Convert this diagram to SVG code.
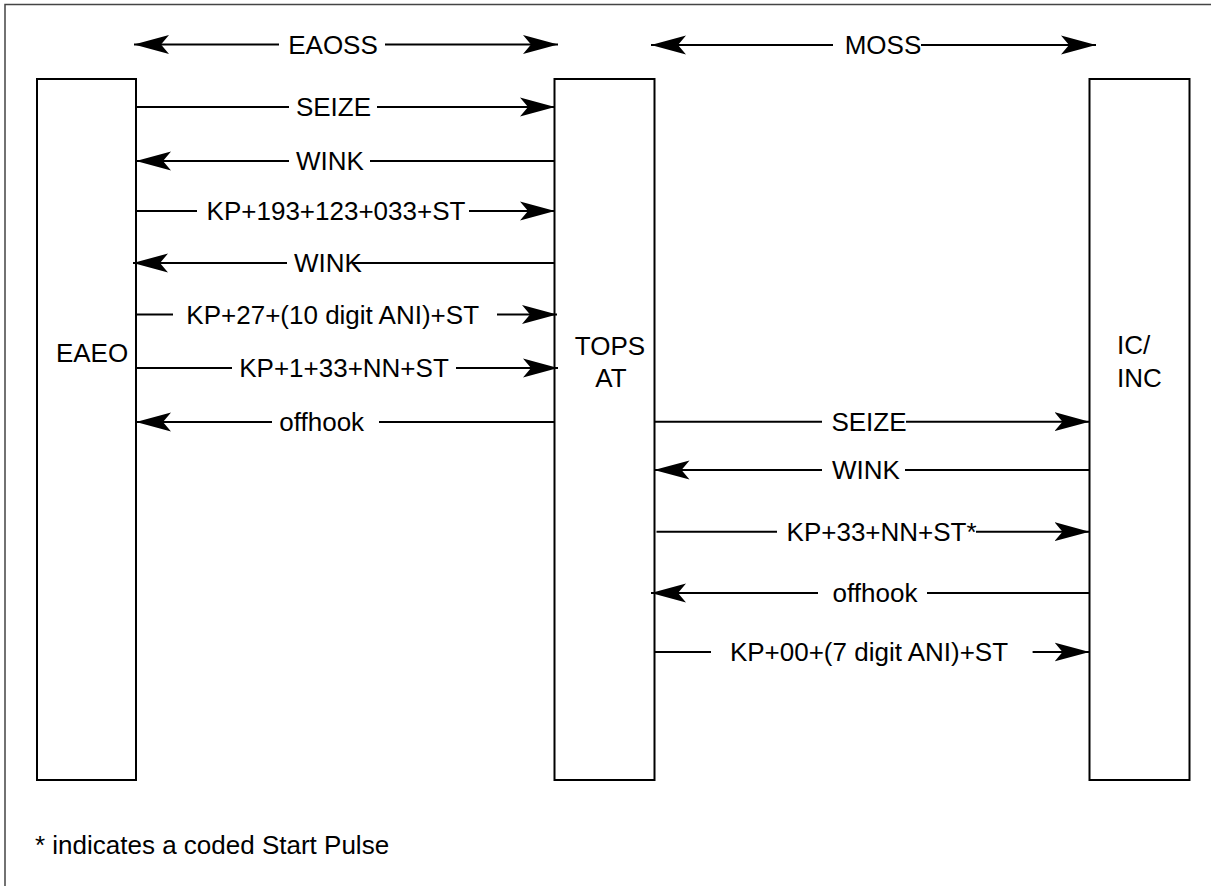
<svg xmlns="http://www.w3.org/2000/svg" width="1211" height="886" viewBox="0 0 1211 886">
<style>
text{font-family:"Liberation Sans",Arial,Helvetica,sans-serif;font-size:26px;fill:#000}
.m{text-anchor:middle}
.box{fill:#fff;stroke:#000;stroke-width:2}
.ln{stroke:#000;stroke-width:2;fill:none}
.a{marker-end:url(#ah)}
.b{marker-start:url(#ah)}
.frame{stroke:#444;stroke-width:1.5;fill:none}
</style>
<defs>
<marker id="ah" markerUnits="userSpaceOnUse" markerWidth="35" markerHeight="20" viewBox="0 0 35 20" refX="35" refY="10" orient="auto-start-reverse">
<path d="M0,0.5 L35,10 L0,19.5 L8,10 Z" fill="#000"/>
</marker>
</defs>
<rect width="1211" height="886" fill="#fff"/>
<path class="frame" d="M5,886 V4.5 H1211"/>

<g id="node-eaeo">
<rect class="box" x="37" y="79" width="99" height="701"/>
<text class="m" x="92" y="362">EAEO</text>
</g>
<g id="node-tops">
<rect class="box" x="554.5" y="79" width="100" height="701"/>
<text class="m" x="610" y="355">TOPS</text>
<text class="m" x="611" y="387">AT</text>
</g>
<g id="node-ic">
<rect class="box" x="1089.5" y="79" width="100" height="701"/>
<text x="1117" y="354">IC/</text>
<text x="1117" y="387">INC</text>
</g>

<g id="connectors">
<!-- EAOSS -->
<line class="ln b" x1="134" y1="44.5" x2="279" y2="44.5"/>
<line class="ln a" x1="385" y1="44.5" x2="558" y2="44.5"/>
<text class="m" x="333" y="53.5">EAOSS</text>
<!-- MOSS -->
<line class="ln b" x1="651" y1="45" x2="833" y2="45"/>
<line class="ln a" x1="921" y1="45" x2="1096" y2="45"/>
<text class="m" x="883" y="54">MOSS</text>

<!-- left column -->
<line class="ln" x1="136" y1="107" x2="289" y2="107"/>
<line class="ln a" x1="377" y1="107" x2="555" y2="107"/>
<text class="m" x="333.5" y="116">SEIZE</text>

<line class="ln a" x1="289" y1="161" x2="136" y2="161"/>
<line class="ln" x1="370" y1="161" x2="555" y2="161"/>
<text class="m" x="330" y="170">WINK</text>

<line class="ln" x1="136" y1="211" x2="197" y2="211"/>
<line class="ln a" x1="469" y1="211" x2="555" y2="211"/>
<text class="m" x="336" y="220">KP+193+123+033+ST</text>

<line class="ln a" x1="287" y1="263" x2="133" y2="263"/>
<line class="ln" x1="353" y1="263" x2="554" y2="263"/>
<text class="m" x="328" y="272">WINK</text>

<line class="ln" x1="136" y1="314.5" x2="173" y2="314.5"/>
<line class="ln a" x1="497" y1="314.5" x2="557" y2="314.5"/>
<text class="m" x="332.7" y="323.5">KP+27+(10 digit ANI)+ST</text>

<line class="ln" x1="136" y1="368" x2="232" y2="368"/>
<line class="ln a" x1="456" y1="368" x2="558" y2="368"/>
<text class="m" x="344" y="377">KP+1+33+NN+ST</text>

<line class="ln a" x1="272" y1="422" x2="136" y2="422"/>
<line class="ln" x1="379" y1="422" x2="554" y2="422"/>
<text class="m" x="321.7" y="431">offhook</text>

<!-- right column -->
<line class="ln" x1="654" y1="421.7" x2="822" y2="421.7"/>
<line class="ln a" x1="906" y1="421.7" x2="1089.5" y2="421.7"/>
<text class="m" x="869" y="430.7">SEIZE</text>

<line class="ln a" x1="822" y1="470" x2="654.5" y2="470"/>
<line class="ln" x1="905" y1="470" x2="1089" y2="470"/>
<text class="m" x="866" y="479">WINK</text>

<line class="ln" x1="656.5" y1="531.7" x2="777" y2="531.7"/>
<line class="ln a" x1="976" y1="531.7" x2="1089.5" y2="531.7"/>
<text class="m" x="881.6" y="540.7">KP+33+NN+ST*</text>

<line class="ln a" x1="818" y1="593" x2="651" y2="593"/>
<line class="ln" x1="927" y1="593" x2="1089" y2="593"/>
<text class="m" x="875" y="602">offhook</text>

<line class="ln" x1="654" y1="652" x2="711" y2="652"/>
<line class="ln a" x1="1032.6" y1="652" x2="1089.5" y2="652"/>
<text class="m" x="869" y="661">KP+00+(7 digit ANI)+ST</text>
</g>

<text x="35" y="854">* indicates a coded Start Pulse</text>
</svg>
